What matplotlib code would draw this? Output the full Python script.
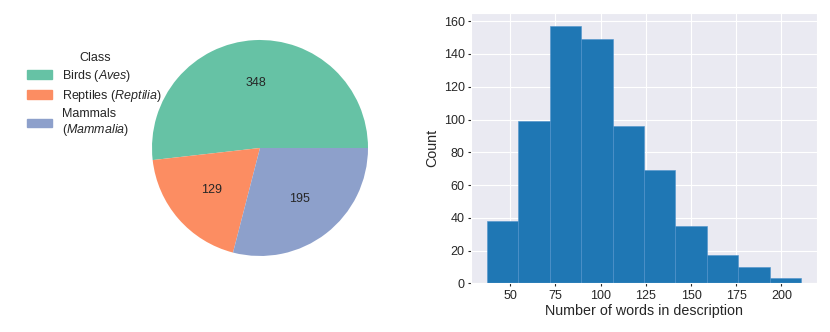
import numpy as np
import matplotlib
matplotlib.use('agg')
import matplotlib.pyplot as plt
import matplotlib.patches as mpatches
import seaborn as sns

# pie data
classes = ['Birds ($\\it{Aves}$)', 'Reptiles ($\\it{Reptilia}$)', 'Mammals\n($\\it{Mammalia}$)']
class_counts = [348, 129, 195]
class_colors = ['#66c2a5', '#fc8d62', '#8da0cb']

# histogram data (bin edges and counts)
bin_edges = np.linspace(37, 211, 11)
bin_counts = [38, 99, 157, 149, 96, 69, 35, 17, 10, 3]

sns.set_style('darkgrid')
plt.rcParams['font.family'] = ['Liberation Sans', 'DejaVu Sans']
plt.rcParams['mathtext.fontset'] = 'custom'
plt.rcParams['mathtext.rm'] = 'Liberation Sans'
plt.rcParams['mathtext.it'] = 'Liberation Sans:italic'
plt.rcParams['text.color'] = '.15'
plt.rcParams['axes.labelcolor'] = '.15'
plt.rcParams['xtick.color'] = '.15'
plt.rcParams['ytick.color'] = '.15'

fig = plt.figure(figsize=(8.3, 3.32), dpi=100)

# pie
ax1 = fig.add_axes([0.1506, 0.1476, 0.3253, 0.8133])
total = sum(class_counts)
wedges, texts, autotexts = ax1.pie(
    class_counts, colors=class_colors,
    autopct=lambda p: '{:.0f}'.format(p * total / 100),
    pctdistance=0.6, textprops={'fontsize': 9},
    wedgeprops={'linewidth': 0})
ax1.set_aspect('equal')

handles = [mpatches.Patch(color=c, label=l) for c, l in zip(class_colors, classes)]
leg = fig.legend(handles=handles, title='Class', loc='upper left',
                 bbox_to_anchor=(0.027, 0.857), frameon=False, fontsize=9,
                 title_fontsize=9, handlelength=2.0, handleheight=0.7,
                 handletextpad=0.8, labelspacing=0.3, borderaxespad=0)

# histogram
ax2 = fig.add_axes([0.5675, 0.1467, 0.4169, 0.8133])
centers = (bin_edges[:-1] + bin_edges[1:]) / 2
ax2.hist(centers, bins=bin_edges, weights=bin_counts, color='#1f77b4',
         edgecolor='#4f92cb', linewidth=0.4)
ax2.set_xticks([50, 75, 100, 125, 150, 175, 200])
ax2.set_yticks(range(0, 161, 20))
ax2.tick_params(axis='both', labelsize=9, length=2.5, width=0.8,
                bottom=True, left=True, pad=2)
ax2.set_xlabel('Number of words in description', fontsize=10.3, labelpad=2)
ax2.set_ylabel('Count', fontsize=10.3, labelpad=3)

plt.savefig('out.png', dpi=100)
